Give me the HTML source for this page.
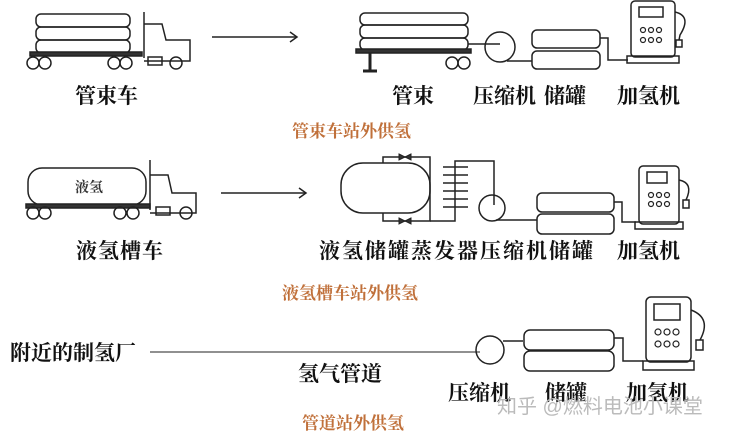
<!DOCTYPE html>
<html><head><meta charset="utf-8"><style>
html,body{margin:0;padding:0;background:#fff;}
svg{display:block;}
text{font-family:"Liberation Serif","Noto Serif CJK SC",serif;}
.b{font-size:21px;fill:#111;font-weight:bold;}
.o{font-size:17px;fill:#c0703a;font-weight:bold;}
</style></head><body>
<svg width="731" height="437" viewBox="0 0 731 437" xmlns="http://www.w3.org/2000/svg">
<g fill="none" stroke="#222" stroke-width="1.5">
<rect x="36" y="14" width="94" height="13" rx="5"/>
<rect x="36" y="27" width="94" height="13" rx="5"/>
<rect x="36" y="40" width="94" height="13" rx="5"/>
<rect x="30" y="52" width="112" height="4" fill="#333"/>
<line x1="144" y1="12" x2="144" y2="58"/>
<path d="M144 24 H162 L166 40 H190 V61 H144"/>
<rect x="148" y="57" width="14" height="8"/>
<circle cx="33" cy="63" r="6"/><circle cx="45" cy="63" r="6"/>
<circle cx="114" cy="63" r="6"/><circle cx="126" cy="63" r="6"/><circle cx="176" cy="63" r="6"/>
<line x1="212" y1="37" x2="297" y2="37"/><path d="M290 32 L297 37 L290 42"/>
<rect x="360" y="13" width="108" height="12" rx="5"/>
<rect x="360" y="25" width="108" height="13" rx="5"/>
<rect x="360" y="38" width="108" height="12" rx="5"/>
<rect x="356" y="49" width="115" height="4" fill="#333"/>
<line x1="370" y1="53" x2="370" y2="70" stroke-width="3"/>
<line x1="363" y1="71" x2="377" y2="71" stroke-width="3"/>
<circle cx="452" cy="63" r="6"/><circle cx="464" cy="63" r="6"/>
<line x1="468" y1="44" x2="500" y2="44"/>
<circle cx="500" cy="47" r="15"/>
<path d="M507 61 H532"/>
<rect x="532" y="30" width="68" height="18" rx="5"/>
<rect x="532" y="51" width="68" height="18" rx="5"/>
<path d="M600 38 H608 V60 H628"/>
<rect x="631" y="1" width="44" height="56" rx="4"/>
<rect x="639" y="7" width="24" height="10"/>
<g stroke-width="1.2"><circle cx="643" cy="30" r="2.5"/><circle cx="651" cy="30" r="2.5"/><circle cx="659" cy="30" r="2.5"/><circle cx="643" cy="40" r="2.5"/><circle cx="651" cy="40" r="2.5"/><circle cx="659" cy="40" r="2.5"/></g>
<rect x="627" y="56" width="52" height="7"/>
<path d="M675 12 Q692 16 680 35 L679 40"/><rect x="676" y="40" width="6" height="7"/>
<rect x="28" y="168" width="118" height="37" rx="14"/>
<rect x="26" y="204" width="124" height="4" fill="#333"/>
<line x1="150" y1="160" x2="150" y2="210"/>
<path d="M150 175 H168 L172 193 H196 V213 H150"/>
<rect x="156" y="207" width="14" height="8"/>
<circle cx="33" cy="213" r="6"/><circle cx="45" cy="213" r="6"/>
<circle cx="120" cy="213" r="6"/><circle cx="133" cy="213" r="6"/><circle cx="186" cy="213" r="6"/>
<line x1="221" y1="193" x2="306" y2="193"/><path d="M299 188 L306 193 L299 198"/>
<rect x="341" y="163" width="89" height="50" rx="22"/>
<path d="M383 163 V157 H430 V221 H383 V213"/>
<path d="M399 154 l6 3 l-6 3 z M411 154 l-6 3 l6 3 z" fill="#333" stroke-width="1"/>
<path d="M399 218 l6 3 l-6 3 z M411 218 l-6 3 l6 3 z" fill="#333" stroke-width="1"/>
<path d="M430 221 H455 V161 H494 V205"/>
<g><line x1="443" y1="167" x2="468" y2="167"/><line x1="443" y1="175" x2="468" y2="175"/><line x1="443" y1="183" x2="468" y2="183"/><line x1="443" y1="191" x2="468" y2="191"/><line x1="443" y1="199" x2="468" y2="199"/><line x1="443" y1="207" x2="468" y2="207"/></g>
<circle cx="492" cy="208" r="13"/>
<path d="M496 220 H537"/>
<rect x="537" y="193" width="77" height="19" rx="5"/>
<rect x="537" y="214" width="77" height="20" rx="5"/>
<path d="M614 202 H622 V222 H636"/>
<rect x="639" y="166" width="40" height="58" rx="4"/>
<rect x="647" y="172" width="20" height="11"/>
<g stroke-width="1.2"><circle cx="651" cy="195" r="2.5"/><circle cx="659" cy="195" r="2.5"/><circle cx="667" cy="195" r="2.5"/><circle cx="651" cy="204" r="2.5"/><circle cx="659" cy="204" r="2.5"/><circle cx="667" cy="204" r="2.5"/></g>
<rect x="635" y="222" width="48" height="7"/>
<path d="M679 180 Q694 183 686 200"/><rect x="683" y="200" width="6" height="8"/>
<line x1="150" y1="352" x2="480" y2="352" stroke-width="1"/>
<circle cx="490" cy="350" r="14"/>
<path d="M503 341 H523"/>
<rect x="524" y="330" width="90" height="20" rx="6"/>
<rect x="524" y="351" width="90" height="20" rx="6"/>
<path d="M614 338 H623 V361 H643"/>
<rect x="646" y="297" width="45" height="65" rx="5"/>
<rect x="654" y="304" width="26" height="16"/>
<g stroke-width="1.2"><circle cx="658" cy="332" r="3"/><circle cx="667" cy="332" r="3"/><circle cx="676" cy="332" r="3"/><circle cx="658" cy="344" r="3"/><circle cx="667" cy="344" r="3"/><circle cx="676" cy="344" r="3"/></g>
<rect x="643" y="361" width="51" height="9"/>
<path d="M691 310 Q712 318 700 340"/><rect x="696" y="340" width="7" height="10"/>
</g>
<text class="b" x="75" y="103">管束车</text>
<text class="b" x="392" y="103">管束</text>
<text class="b" x="473" y="103">压缩机</text>
<text class="b" x="544" y="103">储罐</text>
<text class="b" x="617" y="103">加氢机</text>
<text class="o" x="292" y="137">管束车站外供氢</text>
<text x="75" y="192" style="font-size:14px;fill:#333;font-weight:bold">液氢</text>
<text class="b" x="76" y="258" letter-spacing="1">液氢槽车</text>
<text class="b" x="319" y="258" letter-spacing="2">液氢储罐蒸发器压缩机储罐</text>
<text class="b" x="617" y="258">加氢机</text>
<text class="o" x="282" y="299">液氢槽车站外供氢</text>
<text class="b" x="10" y="360">附近的制氢厂</text>
<text class="b" x="298" y="381">氢气管道</text>
<text class="b" x="448" y="400">压缩机</text>
<text class="b" x="545" y="400">储罐</text>
<text class="b" x="626" y="400">加氢机</text>
<text x="497" y="413" style="font-size:20px;fill:#bbb;font-family:'Liberation Sans','Noto Sans CJK SC',sans-serif">知乎 @燃料电池小课堂</text>
<text class="o" x="302" y="429">管道站外供氢</text>
</svg>
</body></html>
